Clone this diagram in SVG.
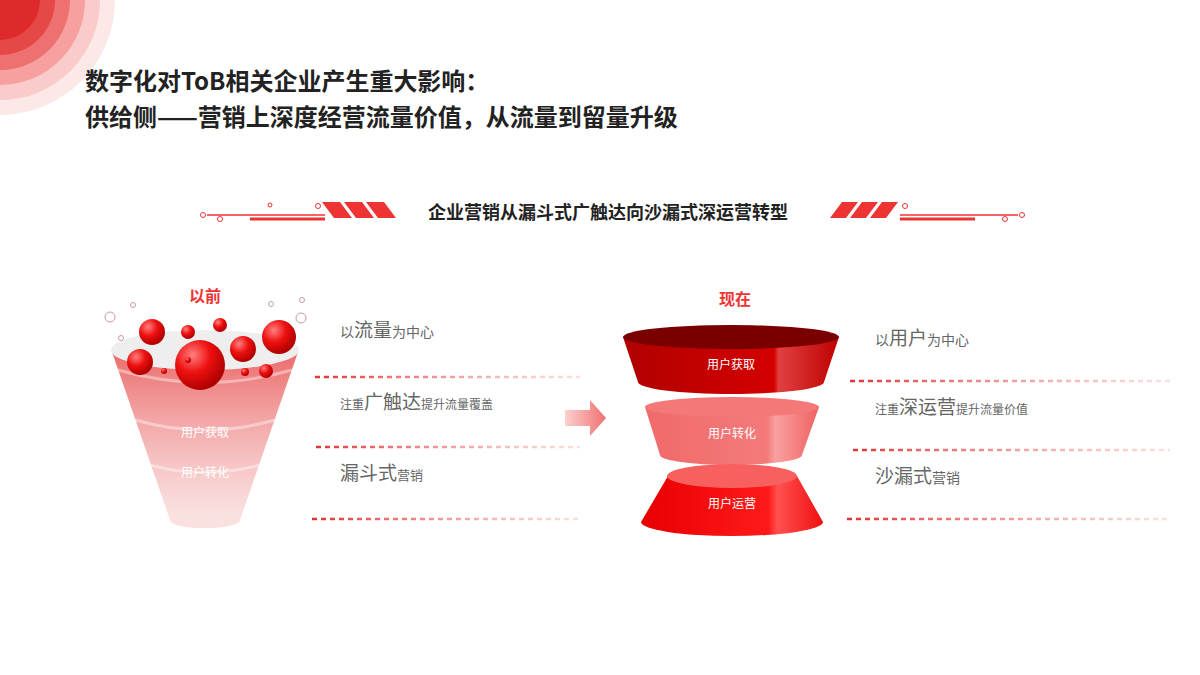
<svg xmlns="http://www.w3.org/2000/svg" width="1200" height="675" viewBox="0 0 1200 675">
<defs>
<style>
text{font-family:"Noto Sans CJK SC","Noto Sans",sans-serif}
.t{font-size:24px;font-weight:bold;fill:#222}
.g{fill:#666}
.w{fill:#fff;font-size:12px;text-anchor:middle}
.d{stroke-width:2.5;stroke-dasharray:5 4}
</style>
<radialGradient id="ball" cx="0.35" cy="0.3" r="0.7"><stop offset="0" stop-color="#ff8080"/><stop offset="0.5" stop-color="#ee1111"/><stop offset="1" stop-color="#b00000"/></radialGradient>
<linearGradient id="fun" x1="0" y1="0" x2="0" y2="1"><stop offset="0" stop-color="#e85050" stop-opacity="0.85"/><stop offset="1" stop-color="#f4c0c0" stop-opacity="0.4"/></linearGradient>
<linearGradient id="dl" gradientUnits="userSpaceOnUse" x1="310" y1="0" x2="580" y2="0"><stop offset="0" stop-color="#e03030"/><stop offset="1" stop-color="#f4b0b0" stop-opacity="0.4"/></linearGradient>
<linearGradient id="dr" gradientUnits="userSpaceOnUse" x1="845" y1="0" x2="1170" y2="0"><stop offset="0" stop-color="#e03030"/><stop offset="1" stop-color="#f4b0b0" stop-opacity="0.4"/></linearGradient>
<linearGradient id="ar" x1="0" x2="1"><stop offset="0" stop-color="#fbd0d0"/><stop offset="1" stop-color="#f07070"/></linearGradient>
<linearGradient id="f1" x1="0" x2="1"><stop offset="0" stop-color="#b00000"/><stop offset="0.7" stop-color="#d40000"/><stop offset="0.72" stop-color="#e04040"/><stop offset="1" stop-color="#c00000"/></linearGradient>
<linearGradient id="f2" x1="0" x2="1"><stop offset="0" stop-color="#f06a6a"/><stop offset="0.7" stop-color="#f47a7a"/><stop offset="0.75" stop-color="#f9a0a0"/><stop offset="1" stop-color="#f06060"/></linearGradient>
<linearGradient id="f3" x1="0" x2="1"><stop offset="0" stop-color="#e80000"/><stop offset="0.7" stop-color="#ff1a1a"/><stop offset="0.75" stop-color="#ff5050"/><stop offset="1" stop-color="#f01010"/></linearGradient>
</defs>
<g id="corner">
<circle cx="0" cy="0" r="115" fill="#fde8e8"/>
<circle cx="0" cy="0" r="100" fill="#fbcaca"/>
<circle cx="0" cy="0" r="85" fill="#f6a0a0"/>
<circle cx="0" cy="0" r="70" fill="#ef7070"/>
<circle cx="0" cy="0" r="55" fill="#e64848"/>
<circle cx="0" cy="0" r="40" fill="#de2a2a"/>
</g>
<g id="title">
<text class="t" x="85" y="90">数字化对ToB相关企业产生重大影响：</text>
<text class="t" x="85" y="126">供给侧——营销上深度经营流量价值，从流量到留量升级</text>
</g>
<g id="banner" stroke="#e33" fill="none">
<line x1="207" y1="215" x2="325" y2="215" stroke-width="1.5"/>
<line x1="250" y1="219" x2="325" y2="219" stroke-width="3"/>
<circle cx="203" cy="215" r="2.5"/><circle cx="220" cy="219" r="2.5"/><circle cx="270" cy="205" r="2"/><circle cx="318" cy="206" r="2.5"/>
<g fill="#e33" stroke="none">
<polygon points="322,202 340,202 352,218 334,218"/><polygon points="344,202 362,202 374,218 356,218"/><polygon points="366,202 384,202 396,218 378,218"/>
<polygon points="830,218 846,218 858,202 842,202"/><polygon points="850,218 866,218 878,202 862,202"/><polygon points="870,218 886,218 898,202 882,202"/>
</g>
<line x1="900" y1="215" x2="1018" y2="215" stroke-width="1.5"/>
<line x1="900" y1="219" x2="975" y2="219" stroke-width="3"/>
<circle cx="1022" cy="215" r="2.5"/><circle cx="1005" cy="219" r="2.5"/><circle cx="905" cy="206" r="2.5"/>
<text x="608" y="219" text-anchor="middle" font-size="18" font-weight="bold" fill="#222" stroke="none">企业营销从漏斗式广触达向沙漏式深运营转型</text>
</g>
<g id="left-funnel">
<text x="205" y="302" text-anchor="middle" font-size="16" font-weight="bold" fill="#e33">以前</text>
<path d="M112,352 L170,520 A35,8 0 0 0 240,520 L298,352 Z" fill="url(#fun)"/>
<path d="M118,370 Q205,395 292,370" stroke="#fff" stroke-opacity="0.4" fill="none" stroke-width="3"/>
<path d="M135,420 Q205,440 275,420" stroke="#fff" stroke-opacity="0.4" fill="none" stroke-width="3"/>
<path d="M150,465 Q205,480 260,465" stroke="#fff" stroke-opacity="0.4" fill="none" stroke-width="3"/>
<ellipse cx="205" cy="520" rx="35" ry="8" fill="#fbe0e0"/>
<ellipse cx="205" cy="350" rx="94" ry="20" fill="#eee"/>
<g fill="url(#ball)">
<circle cx="152" cy="332" r="13"/><circle cx="188" cy="332" r="7"/><circle cx="220" cy="325" r="7"/><circle cx="279" cy="337" r="17"/>
<circle cx="140" cy="362" r="13"/><circle cx="200" cy="365" r="25"/><circle cx="243" cy="349" r="13"/><circle cx="266" cy="371" r="7"/><circle cx="245" cy="372" r="4"/><circle cx="164" cy="371" r="3"/><circle cx="188" cy="360" r="3"/>
</g>
<g fill="none" stroke="#c99"><circle cx="110" cy="317" r="5"/><circle cx="301" cy="318" r="5"/><circle cx="133" cy="305" r="2.5"/><circle cx="271" cy="304" r="2.5"/><circle cx="302" cy="300" r="2.5"/><circle cx="121" cy="338" r="2.5"/></g>
<text class="w" x="205" y="437">用户获取</text>
<text class="w" x="205" y="477">用户转化</text>
</g>
<g id="arrow"><polygon points="565,410 590,410 590,400 606,418 590,436 590,426 565,426" fill="url(#ar)"/></g>
<g id="right-funnel">
<text x="735" y="305" text-anchor="middle" font-size="16" font-weight="bold" fill="#e33">现在</text>
<path d="M623,337 L638,382 A93,12 0 0 0 824,382 L839,337 Z" fill="url(#f1)"/>
<ellipse cx="731" cy="337" rx="108" ry="12" fill="#7a0000"/>
<text class="w" x="731" y="369">用户获取</text>
<path d="M645,407 L660,455 A71,10 0 0 0 802,455 L819,407 Z" fill="url(#f2)"/>
<ellipse cx="732" cy="407" rx="87" ry="10" fill="#f47878"/>
<text class="w" x="732" y="438">用户转化</text>
<path d="M668,476 L641,522 A91,14 0 0 0 823,522 L797,476 Z" fill="url(#f3)"/>
<ellipse cx="732" cy="476" rx="65" ry="12" fill="#f86060"/>
<text class="w" x="732" y="508">用户运营</text>
</g>
<g id="connectors">
<line class="d" stroke="url(#dl)" x1="315" y1="377" x2="580" y2="377"/>
<line class="d" stroke="url(#dl)" x1="316" y1="447" x2="580" y2="447"/>
<line class="d" stroke="url(#dl)" x1="312" y1="519" x2="580" y2="519"/>
<line class="d" stroke="url(#dr)" x1="850" y1="381" x2="1170" y2="381"/>
<line class="d" stroke="url(#dr)" x1="853" y1="450" x2="1170" y2="450"/>
<line class="d" stroke="url(#dr)" x1="847" y1="519" x2="1170" y2="519"/>
</g>
<g id="labels" class="g">
<text x="340" y="337" font-size="14">以<tspan font-size="19">流量</tspan>为中心</text>
<text x="340" y="409" font-size="12">注重<tspan font-size="19">广触达</tspan>提升流量覆盖</text>
<text x="340" y="480" font-size="13"><tspan font-size="19">漏斗式</tspan>营销</text>
<text x="875" y="345" font-size="14">以<tspan font-size="19">用户</tspan>为中心</text>
<text x="875" y="414" font-size="12">注重<tspan font-size="19">深运营</tspan>提升流量价值</text>
<text x="875" y="483" font-size="14"><tspan font-size="19">沙漏式</tspan>营销</text>
</g>
</svg>
